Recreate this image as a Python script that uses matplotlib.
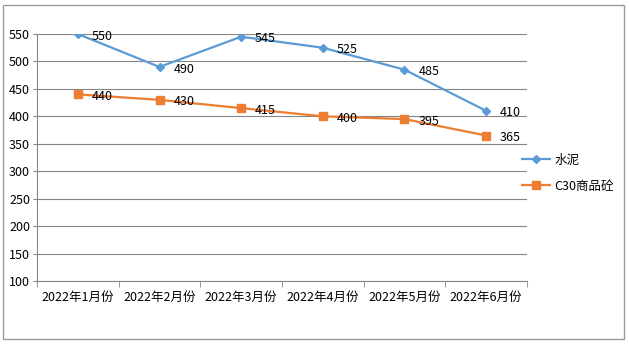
import matplotlib.pyplot as plt
from matplotlib.patches import Rectangle

plt.rcParams['font.family'] = ['Noto Sans CJK SC', 'DejaVu Sans']

months = ["2022年1月份", "2022年2月份", "2022年3月份", "2022年4月份", "2022年5月份", "2022年6月份"]
cement = [550, 490, 545, 525, 485, 410]
concrete = [440, 430, 415, 400, 395, 365]
series_names = ["水泥", "C30商品砼"]

fig = plt.figure(figsize=(6.29, 3.53), dpi=100)
ax = fig.add_axes([37 / 629, 1 - 281 / 353, 490 / 629, 247 / 353])

# outer chart border
fig.patches.append(Rectangle((3 / 629, 1 - 339 / 353), 621 / 629, 334 / 353,
                             transform=fig.transFigure, fill=False,
                             edgecolor='#9a9a9a', linewidth=1))

x = list(range(len(months)))
ax.plot(x, cement, color='#5B9BD5', marker='D', markersize=4.5, linewidth=1.6, label=series_names[0])
ax.plot(x, concrete, color='#ED7D31', marker='s', markersize=5.5, linewidth=1.6, label=series_names[1])

for xi, v in zip(x, cement):
    ax.annotate(str(v), (xi, v), xytext=(10, -1.5), textcoords='offset points',
                ha='left', va='center', fontsize=9, color='#000000')
for xi, v in zip(x, concrete):
    ax.annotate(str(v), (xi, v), xytext=(10, -1.5), textcoords='offset points',
                ha='left', va='center', fontsize=9, color='#000000')

ax.set_xlim(-0.5, len(months) - 0.5)
ax.set_ylim(100, 550)
ax.set_yticks(range(100, 551, 50))
ax.set_xticks(x)
ax.set_xticklabels(months, fontsize=9)
ax.set_xticks([i - 0.5 for i in range(len(months) + 1)], minor=True)
ax.tick_params(axis='x', which='major', length=0, pad=7)
ax.tick_params(axis='x', which='minor', length=4, color='#868686', direction='out')
ax.tick_params(axis='y', length=3, color='#868686', labelsize=9, pad=2)

ax.grid(axis='y', color='#868686', linewidth=0.8)
ax.set_axisbelow(True)
for side in ['top', 'right']:
    ax.spines[side].set_visible(False)
for side in ['left', 'bottom']:
    ax.spines[side].set_color('#868686')
    ax.spines[side].set_linewidth(0.8)

ax.legend(loc='center left', bbox_to_anchor=(0.99, 0.437), frameon=False, fontsize=9,
          handlelength=2.2, labelspacing=1.05, handletextpad=0.4,
          borderaxespad=0, borderpad=0)

fig.savefig('out.png', dpi=100)
